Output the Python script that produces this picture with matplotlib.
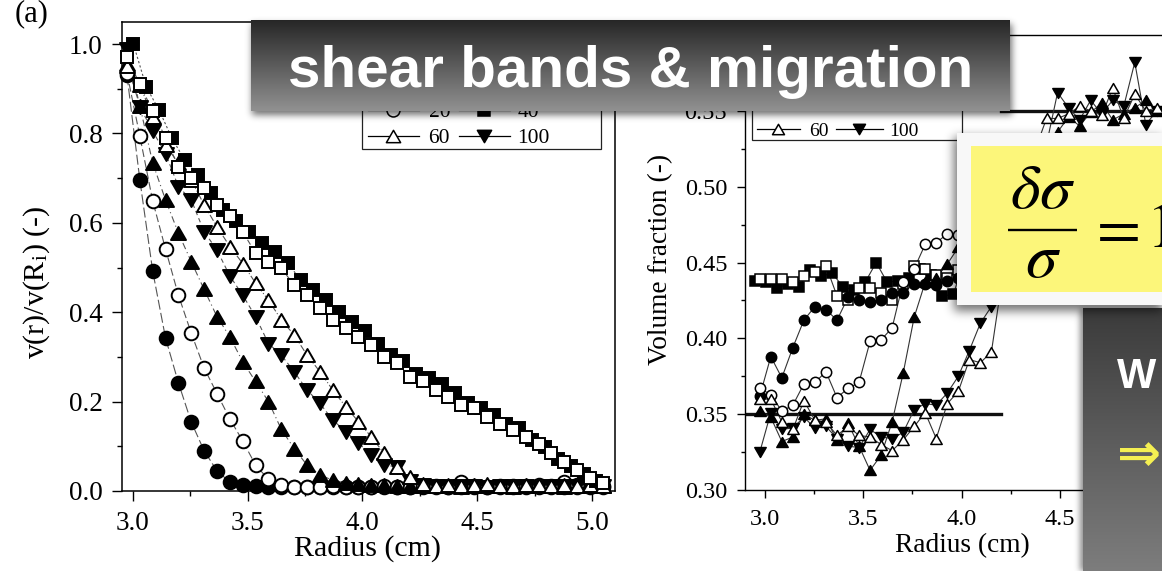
import numpy as np
import matplotlib
matplotlib.use("Agg")
import matplotlib.pyplot as plt
from matplotlib.lines import Line2D
from matplotlib.patches import Rectangle
from matplotlib.path import Path
from matplotlib.ticker import MultipleLocator, FormatStrFormatter

# ---------------------------------------------------------------- data
# radial sampling positions (cm)
radius = [2.975, 3.031, 3.087, 3.143, 3.199, 3.255, 3.311, 3.367, 3.423, 3.479,
          3.535, 3.591, 3.647, 3.703, 3.759, 3.815, 3.871, 3.927, 3.983, 4.039,
          4.095, 4.151, 4.207, 4.263, 4.319, 4.375, 4.431, 4.487, 4.543, 4.599,
          4.655, 4.711, 4.767, 4.823, 4.879, 4.935, 4.991, 5.047]
radius_sq_left = [3.003, 3.059, 3.115, 3.171, 3.227, 3.283, 3.339, 3.395, 3.451, 3.507,
                  3.563, 3.619, 3.675, 3.731, 3.787, 3.843, 3.899, 3.955, 4.011, 4.067,
                  4.123, 4.179, 4.235, 4.291, 4.347, 4.403, 4.459, 4.515, 4.571, 4.627,
                  4.683, 4.739, 4.795, 4.851, 4.907, 4.963, 5.019]
radius_sq_right = [2.950, 3.006, 3.062, 3.118, 3.174, 3.230, 3.286, 3.342, 3.398, 3.454,
                   3.510, 3.566, 3.622, 3.678, 3.734, 3.790, 3.846, 3.902, 3.958, 4.014,
                   4.070, 4.126, 4.182, 4.238, 4.294, 4.350, 4.406, 4.462, 4.518, 4.574,
                   4.630, 4.686, 4.742, 4.798, 4.854, 4.910, 4.966, 5.022]

# (a) normalised velocity v(r)/v(Ri)
vel_fcirc = [0.930, 0.696, 0.492, 0.342, 0.242, 0.154, 0.090, 0.045, 0.020, 0.013,
             0.011, 0.010, 0.009, 0.010, 0.009, 0.008, 0.009, 0.010, 0.009, 0.008,
             0.009, 0.010, 0.009, 0.008, 0.009, 0.009, 0.010, 0.009, 0.008, 0.009,
             0.010, 0.009, 0.008, 0.009, 0.010, 0.009, 0.008, 0.009]
vel_ocirc = [0.935, 0.794, 0.649, 0.541, 0.438, 0.353, 0.275, 0.218, 0.161, 0.112,
             0.058, 0.026, 0.014, 0.010, 0.009, 0.010, 0.011, 0.010, 0.009, 0.010,
             0.011, 0.010, 0.009, 0.011, 0.012, 0.010, 0.020, 0.012, 0.010, 0.011,
             0.012, 0.011, 0.013, 0.012, 0.020, 0.013, 0.022, 0.012]
vel_ftri = [0.955, 0.862, 0.734, 0.651, 0.577, 0.513, 0.451, 0.390, 0.345, 0.289,
            0.245, 0.200, 0.138, 0.095, 0.058, 0.036, 0.024, 0.018, 0.015, 0.014,
            0.013, 0.012, 0.012, 0.011, 0.012, 0.011, 0.010, 0.011, 0.012, 0.011,
            0.010, 0.011, 0.012, 0.011, 0.010, 0.011, 0.012, 0.011]
vel_dtri = [0.990, 0.860, 0.805, 0.755, 0.681, 0.651, 0.580, 0.539, 0.481, 0.438,
            0.390, 0.330, 0.304, 0.267, 0.226, 0.196, 0.159, 0.133, 0.107, 0.081,
            0.058, 0.054, 0.022, 0.013, 0.012, 0.011, 0.012, 0.011, 0.010, 0.011,
            0.012, 0.011, 0.010, 0.011, 0.012, 0.011, 0.010, 0.011]
vel_otri = [0.950, 0.908, 0.837, 0.774, 0.733, 0.696, 0.640, 0.591, 0.547, 0.509,
            0.465, 0.427, 0.383, 0.349, 0.304, 0.267, 0.226, 0.189, 0.155, 0.121,
            0.084, 0.054, 0.032, 0.016, 0.012, 0.014, 0.011, 0.013, 0.015, 0.012,
            0.011, 0.014, 0.013, 0.011, 0.014, 0.012, 0.013, 0.011]
vel_fsq = [1.000, 0.904, 0.852, 0.789, 0.740, 0.707, 0.666, 0.629, 0.605, 0.580,
           0.555, 0.535, 0.510, 0.472, 0.450, 0.427, 0.401, 0.379, 0.358, 0.330,
           0.305, 0.290, 0.262, 0.252, 0.240, 0.220, 0.196, 0.186, 0.170, 0.150,
           0.140, 0.115, 0.098, 0.072, 0.055, 0.038, 0.022]
vel_osq = [0.970, 0.910, 0.850, 0.790, 0.725, 0.700, 0.678, 0.640, 0.615, 0.580,
           0.532, 0.513, 0.498, 0.461, 0.438, 0.409, 0.383, 0.364, 0.345, 0.327,
           0.300, 0.286, 0.256, 0.245, 0.226, 0.211, 0.192, 0.185, 0.166, 0.151,
           0.136, 0.121, 0.105, 0.085, 0.065, 0.048, 0.030, 0.018]

# (b) local volume fraction
phi_fcirc = [0.362, 0.388, 0.374, 0.394, 0.412, 0.421, 0.419, 0.412, 0.427, 0.425,
             0.424, 0.425, 0.430, 0.430, 0.436, 0.436, 0.435, 0.438, 0.440, 0.446,
             0.462, 0.478, 0.490, 0.500, 0.508, 0.514, 0.518, 0.520, 0.517, 0.519,
             0.521, 0.518, 0.520, 0.517, 0.519, 0.521, 0.518, 0.520]
phi_ocirc = [0.367, 0.363, 0.352, 0.356, 0.370, 0.371, 0.378, 0.361, 0.367, 0.371,
             0.398, 0.399, 0.407, 0.437, 0.446, 0.462, 0.463, 0.469, 0.468, 0.475,
             0.482, 0.490, 0.498, 0.505, 0.510, 0.514, 0.516, 0.518, 0.515, 0.517,
             0.519, 0.516, 0.518, 0.515, 0.517, 0.519, 0.516, 0.518]
phi_ftri = [0.352, 0.348, 0.332, 0.335, 0.350, 0.346, 0.347, 0.333, 0.344, 0.329,
            0.313, 0.323, 0.345, 0.377, 0.414, 0.437, 0.440, 0.449, 0.460, 0.472,
            0.488, 0.500, 0.510, 0.518, 0.522, 0.526, 0.528, 0.536, 0.546, 0.540,
            0.549, 0.555, 0.544, 0.548, 0.552, 0.557, 0.550, 0.553]
phi_dtri = [0.325, 0.351, 0.340, 0.341, 0.348, 0.341, 0.342, 0.334, 0.329, 0.328,
            0.340, 0.335, 0.334, 0.338, 0.353, 0.357, 0.356, 0.364, 0.375, 0.392,
            0.410, 0.421, 0.450, 0.480, 0.505, 0.522, 0.528, 0.562, 0.552, 0.544,
            0.557, 0.548, 0.557, 0.553, 0.582, 0.541, 0.550, 0.555]
phi_otri = [0.360, 0.360, 0.345, 0.340, 0.359, 0.346, 0.345, 0.336, 0.342, 0.336,
            0.335, 0.330, 0.326, 0.333, 0.342, 0.351, 0.334, 0.357, 0.365, 0.386,
            0.384, 0.391, 0.440, 0.475, 0.505, 0.525, 0.545, 0.545, 0.548, 0.553,
            0.550, 0.547, 0.565, 0.545, 0.561, 0.550, 0.552, 0.548]
phi_fsq = [0.438, 0.437, 0.433, 0.436, 0.434, 0.445, 0.441, 0.443, 0.434, 0.432,
           0.437, 0.450, 0.437, 0.438, 0.440, 0.446, 0.442, 0.428, 0.429, 0.452,
           0.470, 0.485, 0.495, 0.505, 0.512, 0.518, 0.520, 0.522, 0.519, 0.521,
           0.523, 0.520, 0.522, 0.519, 0.521, 0.523, 0.520, 0.522]
phi_osq = [0.439, 0.439, 0.439, 0.437, 0.441, 0.444, 0.448, 0.428, 0.425, 0.433,
           0.433, 0.430, 0.425, 0.436, 0.448, 0.446, 0.442, 0.440, 0.445, 0.455,
           0.468, 0.480, 0.492, 0.500, 0.508, 0.512, 0.515, 0.517, 0.514, 0.516,
           0.518, 0.515, 0.517, 0.514, 0.516, 0.518, 0.515, 0.517]

# imposed volume-fraction levels
ref_radius_inner = [2.90, 4.20]
ref_phi_inner = [0.35, 0.35]
ref_radius_outer = [4.20, 5.20]
ref_phi_outer = [0.55, 0.55]

legend_keys = [['ocirc', 'fsq'], ['otri', 'dtri']]
legend_labels = [['20', '40'], ['60', '100']]

# ---------------------------------------------------------------- figure
W, H, DPI = 1162, 571, 100
plt.rcParams['font.family'] = ['Liberation Serif', 'DejaVu Serif']
plt.rcParams['mathtext.fontset'] = 'stix'

fig = plt.figure(figsize=(W / DPI, H / DPI), dpi=DPI)


def fx(x):
    return x / W


def fy(y):
    return 1 - y / H


_codes = [Path.MOVETO, Path.LINETO, Path.LINETO, Path.CLOSEPOLY]
TRI_UP = Path([(-1, -0.866), (1, -0.866), (0, 0.866), (-1, -0.866)], _codes)
TRI_DN = Path([(-1, 0.866), (1, 0.866), (0, -0.866), (-1, 0.866)], _codes)
MARK = {
    'fcirc': ('o', True), 'ocirc': ('o', False),
    'ftri': (TRI_UP, True), 'dtri': (TRI_DN, True), 'otri': (TRI_UP, False),
    'fsq': ('s', True), 'osq': ('s', False),
}
BASE_SIZE = {'o': 9.8, 's': 9.2}


def mstyle(key, scale):
    m, filled = MARK[key]
    size = BASE_SIZE.get(m, 10.8) if isinstance(m, str) else 10.8
    return dict(marker=m, markersize=size * scale,
                markerfacecolor='black' if filled else 'white',
                markeredgecolor='black')


# ---- panel (a): velocity profiles
ax1 = fig.add_axes([fx(121.7), fy(491), (615 - 121.7) / W, (491 - 21.7) / H])
left_series = [
    ('fcirc', radius, vel_fcirc, (0, (9, 3))),
    ('ocirc', radius, vel_ocirc, (0, (7, 3))),
    ('ftri', radius, vel_ftri, (0, (6, 3, 1, 3))),
    ('dtri', radius, vel_dtri, (0, (4, 3))),
    ('otri', radius, vel_otri, (0, (6, 2, 1, 2))),
    ('fsq', radius_sq_left, vel_fsq, (0, (2, 2))),
    ('osq', radius, vel_osq, (0, (5, 3))),
]
for i, (key, r, v, dash) in enumerate(left_series):
    ax1.plot(r, v, color='#555555', lw=0.8, ls=dash, zorder=2 + i * 0.1, clip_on=False)
    ax1.plot(r, v, ls='none', markeredgewidth=1.4, zorder=3 + i * 0.1, clip_on=False,
             **mstyle(key, 1.0))

ax1.set_xlim(2.952, 5.1)
ax1.set_ylim(0, 1.05)
ax1.xaxis.set_major_locator(MultipleLocator(0.5))
ax1.xaxis.set_minor_locator(MultipleLocator(0.25))
ax1.yaxis.set_major_locator(MultipleLocator(0.2))
ax1.yaxis.set_minor_locator(MultipleLocator(0.1))
ax1.tick_params(which='both', direction='out', width=1.0, top=False, right=False)
ax1.tick_params(which='major', length=7.2, labelsize=19.5)
ax1.tick_params(which='minor', length=3.8)
ax1.tick_params(axis='x', which='major', pad=7.5)
ax1.tick_params(axis='y', which='major', pad=6.5)
for s in ax1.spines.values():
    s.set_linewidth(1.1)
ax1.set_xlabel('Radius (cm)', fontsize=21.5, va='center')
ax1.xaxis.set_label_coords(0.499, -0.1236)
ax1.set_ylabel(r'v(r)/v(R$_\mathregular{i}$) (-)', fontsize=21.5, va='center')
ax1.yaxis.set_label_coords(-0.1727, 0.445)

# ---- panel (b): volume fraction profiles
ax2 = fig.add_axes([fx(745), fy(490.1), 453 / W, 455.1 / H])
ax2.plot(ref_radius_inner, ref_phi_inner, color='#111111', lw=2.4, zorder=2)
ax2.plot(ref_radius_outer, ref_phi_outer, color='#111111', lw=2.4, zorder=2)
right_series = [
    ('fsq', radius_sq_right, phi_fsq),
    ('osq', radius, phi_osq),
    ('fcirc', radius, phi_fcirc),
    ('ocirc', radius, phi_ocirc),
    ('ftri', radius, phi_ftri),
    ('dtri', radius, phi_dtri),
    ('otri', radius, phi_otri),
]
for i, (key, r, p) in enumerate(right_series):
    ax2.plot(r, p, color='#333333', lw=0.8, zorder=2.5 + i * 0.1)
    ax2.plot(r, p, ls='none', markeredgewidth=1.1, zorder=3 + i * 0.1, **mstyle(key, 0.76))

ax2.set_xlim(2.9, 5.2)
ax2.set_ylim(0.30, 0.60)
ax2.xaxis.set_major_locator(MultipleLocator(0.5))
ax2.xaxis.set_minor_locator(MultipleLocator(0.25))
ax2.yaxis.set_major_locator(MultipleLocator(0.05))
ax2.yaxis.set_minor_locator(MultipleLocator(0.025))
ax2.yaxis.set_major_formatter(FormatStrFormatter('%.2f'))
ax2.tick_params(which='both', direction='out', width=1.0, top=False, right=False)
ax2.tick_params(which='major', length=5.8, labelsize=17.5)
ax2.tick_params(which='minor', length=3.2)
ax2.tick_params(axis='x', which='major', pad=7.5)
ax2.tick_params(axis='y', which='major', pad=7.0)
for s in ax2.spines.values():
    s.set_linewidth(1.0)
ax2.set_xlabel('Radius (cm)', fontsize=19.7, va='center')
ax2.xaxis.set_label_coords(0.479, -0.1228)
ax2.set_ylabel('Volume fraction (-)', fontsize=19.7, va='center')
ax2.yaxis.set_label_coords(-0.1863, 0.5078)

fig.text(fx(15), fy(21), '(a)', fontsize=22, ha='left', va='baseline')


# ---- legends (two columns)
def draw_legend(box, rows, keys, labels, cols, scale, fs):
    x0, x1, y0, y1 = box
    fig.add_artist(Rectangle((fx(x0), fy(y1)), (x1 - x0) / W, (y1 - y0) / H,
                             transform=fig.transFigure, facecolor='white',
                             edgecolor='#222222', lw=0.9, zorder=5))
    for ry, pair, names in zip(rows, keys, labels):
        for (hx0, hx1, lx), key, name in zip(cols, pair, names):
            fig.add_artist(Line2D([fx(hx0), fx(hx1)], [fy(ry), fy(ry)],
                                  transform=fig.transFigure, color='black', lw=0.9, zorder=6))
            fig.add_artist(Line2D([fx((hx0 + hx1) / 2)], [fy(ry)], transform=fig.transFigure,
                                  ls='none', markeredgewidth=1.1, zorder=7, **mstyle(key, scale)))
            fig.text(fx(lx), fy(ry), name, fontsize=fs, ha='left',
                     va='center_baseline', zorder=7)


draw_legend((362, 601, 62, 149), [110, 136], legend_keys, legend_labels,
            [(367.6, 419, 428.5), (458.5, 510, 517.5)], 0.95, 15.5)
draw_legend((752.4, 962.2, 55, 140), [129], legend_keys[1:], legend_labels[1:],
            [(756.5, 799.7, 809.5), (836, 882.7, 889.5)], 0.8, 14)


# ---------------------------------------------------------------- slide overlays
def blur(a, sigma):
    rad = int(3 * sigma)
    k = np.exp(-0.5 * (np.arange(-rad, rad + 1) / sigma) ** 2)
    k /= k.sum()
    a = np.apply_along_axis(lambda m: np.convolve(m, k, mode='same'), 0, a)
    a = np.apply_along_axis(lambda m: np.convolve(m, k, mode='same'), 1, a)
    return a


Y, X = np.mgrid[0:H, 0:W] + 0.5
prem = np.zeros((H, W, 3))
alpha = np.zeros((H, W))


def rect(x0, y0, x1, y1):
    return ((X >= x0) & (X < x1) & (Y >= y0) & (Y < y1)).astype(float)


def paint(color, a):
    global prem, alpha
    color = np.broadcast_to(np.asarray(color, float), (H, W, 3))
    prem = color * a[..., None] + prem * (1 - a[..., None])
    alpha = a + alpha * (1 - a)


def vgrad(y0, y1, c0, c1):
    t = np.clip((Y - y0) / (y1 - y0), 0, 1)
    g = c0 + (c1 - c0) * t
    return np.stack([g, g, g], axis=-1)


# title banner
paint((0, 0, 0), 0.55 * blur(rect(252, 24, 1012, 115), 3.5))
paint(vgrad(20, 111, 0.15, 0.57), rect(251, 20, 1010, 111))
# lower-right grey panel
paint((0, 0, 0), 0.45 * blur(rect(1080, 309, 1200, 600), 3.0))
paint(vgrad(308, 571, 0.23, 0.49), rect(1083.3, 308.3, 1200, 600))
# formula card
paint((0, 0, 0), 0.55 * blur(rect(954, 137, 1200, 311), 5.0))
paint((0.975, 0.975, 0.975), rect(956.7, 132.7, 1200, 305))
paint((0.99, 0.968, 0.48), rect(970.7, 146, 1200, 291.7))

rgb = np.where(alpha[..., None] > 0, prem / np.maximum(alpha[..., None], 1e-6), 1.0)
overlay = np.dstack([np.clip(rgb, 0, 1), np.clip(alpha, 0, 1)])

ax_ov = fig.add_axes([0, 0, 1, 1], zorder=10)
ax_ov.imshow(overlay, extent=(0, W, H, 0), interpolation='nearest', aspect='auto')
ax_ov.set_xlim(0, W)
ax_ov.set_ylim(H, 0)
ax_ov.axis('off')
# fraction bar of the formula
ax_ov.plot([1008, 1077], [230, 230], color='black', lw=1.7, solid_capstyle='butt', zorder=5)

sans = ['Liberation Sans', 'DejaVu Sans']
fig.text(fx(288.5), fy(87.3), 'shear bands & migration', fontsize=42, fontweight='bold',
         color='white', family=sans, ha='left', va='baseline', zorder=12)
fig.text(fx(1043), fy(208), r'$\delta\sigma$', fontsize=46,
         color='black', ha='center', va='baseline', zorder=12)
fig.text(fx(1043), fy(277), r'$\sigma$', fontsize=46,
         color='black', ha='center', va='baseline', zorder=12)
fig.text(fx(1087), fy(247), r'$=$', fontsize=46,
         color='black', ha='left', va='baseline', zorder=12)
fig.text(fx(1146), fy(247), r'$1$', fontsize=46,
         color='black', ha='left', va='baseline', zorder=12)
fig.text(fx(1116.7), fy(388), 'W', fontsize=30, fontweight='bold', color='white',
         family=sans, ha='left', va='baseline', zorder=12)
fig.text(fx(1117), fy(456), '⇒', fontsize=38, fontweight='bold', color='#f4ef52',
         family=['DejaVu Sans'], ha='left', va='center', zorder=12)

fig.savefig('out.png', dpi=DPI)
